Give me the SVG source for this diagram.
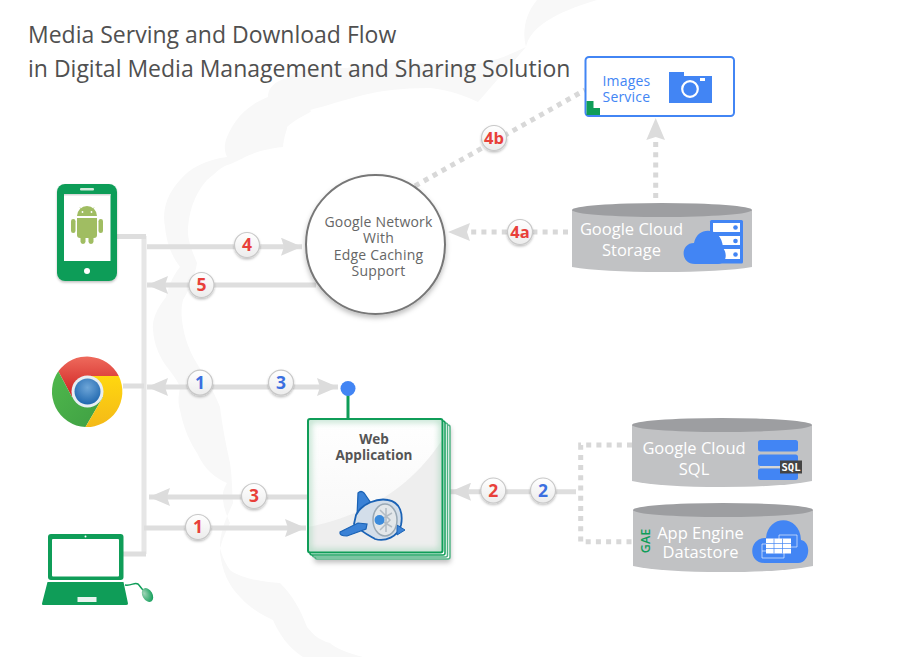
<svg xmlns="http://www.w3.org/2000/svg" width="899" height="657" viewBox="0 0 899 657">
<style>
text{font-family:"Open Sans","Noto Sans","Liberation Sans",sans-serif}
.t{fill:#505050}
.wire{fill:none;stroke:#dedede;stroke-width:5}
.vwire{fill:none;stroke:#e6e6e6;stroke-width:5}
.dot{fill:none;stroke:#d8d8d8;stroke-width:5;stroke-dasharray:5 5.2}
.bc{fill:url(#bg);stroke:#c8c8c8;stroke-width:1.2;filter:url(#ds)}
.bt{font-size:17.5px;font-weight:700;text-anchor:middle}
.red{fill:#e8403a}
.blue{fill:#3b6fe0}
.cy{fill:#c1c2c4}
.ct{fill:#9d9ea1}
.cl{fill:#fff;font-size:16.5px;text-anchor:middle}
.ic{fill:#4285f4}
.g{fill:#0f9d58}
</style>
<defs>
<linearGradient id="bg" x1="0" y1="0" x2="0" y2="1"><stop offset="0" stop-color="#fff"/><stop offset="1" stop-color="#ececec"/></linearGradient>
<linearGradient id="wa" x1="0" y1="0" x2="0" y2="1"><stop offset="0" stop-color="#fff"/><stop offset="1" stop-color="#f6f6f6"/></linearGradient>
<linearGradient id="cr" x1="0" y1="0" x2="0" y2="1"><stop offset="0" stop-color="#ee6a5c"/><stop offset="1" stop-color="#cf2020"/></linearGradient>
<linearGradient id="cg" x1="0" y1="0" x2="1" y2="1"><stop offset="0" stop-color="#4fb84c"/><stop offset="1" stop-color="#3f9f43"/></linearGradient>
<linearGradient id="cy" x1="0" y1="0" x2="0" y2="1"><stop offset="0" stop-color="#ffd70f"/><stop offset="1" stop-color="#f4b918"/></linearGradient>
<radialGradient id="ch" cx=".5" cy=".35" r=".7"><stop offset="0" stop-color="#6ea6d8"/><stop offset="1" stop-color="#1a63ac"/></radialGradient>
<radialGradient id="ms" cx=".3" cy=".3" r=".8"><stop offset="0" stop-color="#9fd4b6"/><stop offset="1" stop-color="#0f9d58"/></radialGradient>
<clipPath id="wc"><rect x="308" y="419" width="134.500" height="133.500" rx="2"/></clipPath>
<filter id="ds" x="-30%" y="-30%" width="160%" height="170%"><feDropShadow dx="0" dy="1.5" stdDeviation="1.2" flood-color="#000" flood-opacity=".25"/></filter>
<filter id="ds2" x="-20%" y="-20%" width="140%" height="140%"><feDropShadow dx="0" dy="3" stdDeviation="2.5" flood-color="#000" flood-opacity=".25"/></filter>
<filter id="blur" x="-20%" y="-20%" width="140%" height="140%"><feGaussianBlur stdDeviation="3.500"/></filter>
<marker id="ah" markerUnits="userSpaceOnUse" markerWidth="22" markerHeight="18" refX="21" refY="9" orient="auto"><path d="M0 0L21 9L0 18L3 9Z" fill="#dcdcdc"/></marker>
</defs>
<g id="background">
<path fill="#f8f8f8" d="M537 0C525 14 522 32 526 47C505 57 488 64 463 65C420 62 380 62 347 68C318 66 295 70 287 78C272 82 268 90 268 97C250 104 236 116 227 137C224 145 224 150 227 157C205 160 190 168 180 180C166 195 162 212 165 227C167 245 172 256 180 267C172 277 168 288 166 297C156 310 152 320 153 330C154 345 160 358 167 367C174 376 178 382 180 387C178 398 178 404 180 410C184 430 190 442 197 453C205 470 215 478 227 483C223 490 222 495 223 500C224 510 228 518 230 523C224 535 220 545 220 553C222 570 228 585 240 597C250 608 262 615 273 620C278 632 288 648 303 657L363 657C345 652 335 648 330 643C318 640 312 633 307 627C300 608 292 595 280 583C262 582 240 578 230 570C222 558 220 550 220 543C222 525 228 515 233 503C232 490 232 475 230 463C226 445 222 425 220 407C214 392 208 382 203 373C194 360 186 345 183 327C181 315 181 308 183 300C190 288 195 276 197 263C192 250 187 240 188 227C190 205 198 190 207 180C220 170 218 168 233 163C253 153 258 150 283 147C284 135 288 128 287 127C300 115 315 112 310 110C350 100 370 88 430 88C450 90 465 96 478 102L526 47C530 28 553 13 597 0Z"/>
</g>
<g id="title">
<text class="t" x="28" y="43" font-size="23">Media Serving and Download Flow</text>
<text class="t" x="28" y="77" font-size="23">in Digital Media Management and Sharing Solution</text>
</g>
<g id="connectors">
<path class="vwire" d="M144 236V554"/>
<path class="wire" d="M117 236.500H146M123 386H144M123 554H146"/>
<path class="wire" d="M147 246.700H302" marker-end="url(#ah)"/>
<path class="wire" d="M316 285H147" marker-end="url(#ah)"/>
<path class="wire" d="M200 387H147" marker-end="url(#ah)"/>
<path class="wire" d="M200 387H338" marker-end="url(#ah)"/>
<path class="wire" d="M307 497H149" marker-end="url(#ah)"/>
<path class="wire" d="M144 528H306" marker-end="url(#ah)"/>
<path class="wire" d="M576 491.700H450" marker-end="url(#ah)"/>
<path class="dot" d="M632 445H580.700V541.700H632"/>
<path class="dot" d="M415 186L585 90"/>
<path class="dot" d="M568 232H470"/>
<path d="M448 232L470 223L467 232L470 241Z" fill="#dcdcdc"/>
<path class="dot" d="M655.700 198V140"/>
<path d="M655.700 118L665 140L655.700 137L646.300 140Z" fill="#dcdcdc"/>
<path d="M348 395V418" fill="none" stroke="#0f9d58" stroke-width="3"/>
</g>
<g id="phone">
<rect class="g" x="57" y="184" width="60" height="97" rx="8" filter="url(#ds)"/>
<rect x="64" y="194" width="46.500" height="67" fill="#fff"/>
<rect x="64" y="194" width="46.500" height="1.500" fill="#d9d9d9"/>
<rect x="80" y="188" width="14" height="2.500" rx="1" fill="#cfe9da"/>
<circle cx="87" cy="271" r="3" fill="#fff"/>
<g fill="#a0bd62">
<path d="M77 216A10 10 0 0 1 97 216Z"/>
<path d="M77 218H97V235A3 3 0 0 1 94 238H80A3 3 0 0 1 77 235Z"/>
<rect x="71" y="219" width="4.500" height="14" rx="2.200"/>
<rect x="98.500" y="219" width="4.500" height="14" rx="2.200"/>
<rect x="80.500" y="236" width="5" height="8" rx="2.400"/>
<rect x="88.500" y="236" width="5" height="8" rx="2.400"/>
<path d="M80 207.500L83 211M94 207.500L91 211" stroke="#a0bd62" stroke-width=".8" fill="none"/>
</g>
<circle cx="82.500" cy="212" r=".9" fill="#fff"/><circle cx="91.500" cy="212" r=".9" fill="#fff"/>
</g>
<g id="chrome">
<path fill="url(#cr)" d="M58.300 371.300A35.500 35.500 0 0 1 118.800 376H87.500L72 397Z"/>
<path fill="url(#cg)" d="M58.300 371.300A35.500 35.500 0 0 0 85.500 427L103 397H72Z"/>
<path fill="url(#cy)" d="M118.800 376A35.500 35.500 0 0 1 85.500 427L103 397L87.500 376Z"/>
<circle cx="87.500" cy="391.500" r="16" fill="#e8eef2"/>
<circle cx="87.500" cy="391.500" r="13" fill="url(#ch)"/>
</g>
<g id="laptop">
<rect x="48" y="534" width="75.500" height="46" rx="3" class="g"/>
<rect x="52" y="539" width="67" height="37.500" rx="1" fill="#fff"/>
<circle cx="85.500" cy="536.500" r="1" fill="#fff"/>
<path class="g" d="M47.500 582H123.500L128 603.500Q128 605 126 605H43.500Q41.500 605 42 603.500Z"/>
<rect x="77.500" y="597" width="19" height="5" fill="#e8f4ee"/>
<path d="M125 585C132 586 134 582 138 584C140 586 141 588 143 590" fill="none" stroke="#0f9d58" stroke-width="1.500"/>
<ellipse cx="147.500" cy="595" rx="5" ry="7.500" transform="rotate(-30 147.500 595)" fill="url(#ms)"/>
</g>
<g id="edge-network">
<circle cx="375.500" cy="244.500" r="69.500" fill="#fff" stroke="#777" stroke-width="2" filter="url(#ds2)"/>
<g fill="#666" font-size="14" text-anchor="middle" letter-spacing=".2">
<text x="378.500" y="226.500">Google Network</text>
<text x="378.500" y="243">With</text>
<text x="378.500" y="259.500">Edge Caching</text>
<text x="378.500" y="276">Support</text>
</g>
</g>
<g id="images-service">
<rect x="585.500" y="57" width="148.500" height="59" rx="3.500" fill="#fff" stroke="#4285f4" stroke-width="2"/>
<path class="g" d="M586.500 115V101H593.500V108H600V115Z"/>
<g fill="#4285f4" font-size="14" letter-spacing=".2">
<text x="602.500" y="85.500">Images</text>
<text x="602.500" y="101.500">Service</text>
</g>
<path fill="#4285f4" d="M669 72H684V76H712V103H669Z"/>
<circle cx="690" cy="89" r="7.800" fill="none" stroke="#fff" stroke-width="2.200"/>
<rect x="700" y="78" width="5" height="3" fill="#fff"/>
</g>
<g id="cloud-storage">
<path class="cy" d="M572 210H752V267Q722 272 662 272T572 267Z"/>
<ellipse class="ct" cx="662" cy="210" rx="90" ry="7"/>
<text class="cl" x="631.500" y="235">Google Cloud</text>
<text class="cl" x="631.500" y="256">Storage</text>
<rect x="710" y="220" width="33" height="43.500" rx="1.500" class="ic"/>
<path fill="#fff" d="M713 223H740V232H713ZM713 236H740V245H713ZM713 249H740V259H713Z"/>
<circle cx="735.500" cy="227.500" r="2.300" class="ic"/><circle cx="735.500" cy="241" r="2.300" class="ic"/><circle cx="735.500" cy="254.500" r="2.300" class="ic"/>
<path class="ic" d="M695 264C680 264 680 243 694 243C697 226 722 226 723 248C728 254 726 264 718 264Z"/>
</g>
<g id="cloud-sql">
<path class="cy" d="M632 425H812V481Q782 487 722 487T632 481Z"/>
<ellipse class="ct" cx="722" cy="425" rx="90" ry="7"/>
<text class="cl" x="694" y="454">Google Cloud</text>
<text class="cl" x="694" y="475">SQL</text>
<rect x="758" y="440" width="40" height="11.500" rx="2.500" class="ic"/>
<rect x="758" y="454.500" width="40" height="11.500" rx="2.500" class="ic"/>
<rect x="758" y="468.500" width="40" height="11.500" rx="2.500" class="ic"/>
<path d="M760 467H782" stroke="#e8e8e8" stroke-width="1"/>
<rect x="780" y="460.500" width="22" height="13" fill="#444"/>
<text x="791" y="471" font-size="10.500" font-weight="700" fill="#fff" text-anchor="middle" style="font-family:'DejaVu Sans Mono','Liberation Mono',monospace">SQL</text>
</g>
<g id="datastore">
<path class="cy" d="M633 510H813V566Q783 572 723 572T633 566Z"/>
<ellipse class="ct" cx="723" cy="510" rx="90" ry="7"/>
<text class="cl" x="700.500" y="539">App Engine</text>
<text class="cl" x="700.500" y="558">Datastore</text>
<text transform="translate(649.500 541) rotate(-90)" font-size="12.500" font-weight="600" fill="#0f9d58" text-anchor="middle">GAE</text>
<path class="ic" d="M764 563C748 563 748 538 766 538C768 514 800 514 801 540C812 542 810 563 798 563Z"/>
<g fill="none" stroke="#fff">
<path stroke-width=".6" d="M762 544H784V558H762ZM762 551H784"/>
<path stroke-width=".6" d="M779 535H797V547H779Z"/>
</g>
<rect x="766" y="538.500" width="25" height="15" fill="#fff"/>
<path d="M774 538.500V553.500M782.500 538.500V553.500M766 543.500H791M766 548.500H791" stroke="#4285f4" stroke-width=".7"/>
</g>
<g id="web-app">
<rect x="315" y="425" width="135" height="134" rx="2" fill="#fff" stroke="#4fb283" stroke-width="1.500" filter="url(#ds2)"/>
<rect x="312.500" y="423" width="135" height="134" rx="2" fill="#fff" stroke="#4fb283" stroke-width="1.500"/>
<rect x="310" y="421" width="135" height="134" rx="2" fill="#fff" stroke="#0f9d58" stroke-width="1.500"/>
<rect x="308" y="419" width="134.500" height="133.500" rx="2" fill="url(#wa)"/>
<path d="M308 527C360 517 410 490 442 440V552.500H308Z" fill="#eeeeee"/>
<g clip-path="url(#wc)"><rect x="308" y="419" width="134.500" height="133.500" rx="2" fill="none" stroke="#a8d8bd" stroke-width="5" filter="url(#blur)"/></g>
<rect x="308" y="419" width="134.500" height="133.500" rx="2" fill="none" stroke="#0f9d58" stroke-width="2"/>
<g fill="#555" font-size="13.500" font-weight="700" text-anchor="middle">
<text x="374" y="443.500">Web</text>
<text x="374" y="460">Application</text>
</g>
<path d="M358 493Q361 490 364 493L373 506L357 516Z" fill="#3b82d6" stroke="#1a62b5" stroke-width="1.200"/>
<path d="M356 515C362 503 378 498 388 500C401 502 403 515 401 525C398 537 385 542 375 539C368 535 360 531 354 524Z" fill="#d3deea" stroke="#1a62b5" stroke-width="1.800"/>
<path d="M397 525L405 530L397 535Z" fill="#3b82d6" stroke="#1a62b5"/>
<ellipse cx="385" cy="520" rx="12" ry="16" fill="#e3e7ea" stroke="#9aa9b5" stroke-width="1.500"/>
<path d="M380 510L390 520L380 530M386 508L386 532M392 513L380 520L392 527" fill="none" stroke="#b3bcc4" stroke-width="1.500"/>
<circle cx="379.500" cy="520" r="5" fill="#3b8bdc"/>
<path d="M340 532L358 523L367 524L366 529L347 536Q339 536 340 532Z" fill="#3b82d6" stroke="#1a62b5" stroke-width="1.200"/>
</g>
<g id="endpoint">
<circle cx="348" cy="388.500" r="7.500" class="ic"/>
</g>
<g id="badges">
<circle class="bc" cx="247" cy="245" r="12.500"/><text class="bt red" x="247" y="251.200">4</text>
<circle class="bc" cx="201.500" cy="285" r="12.500"/><text class="bt red" x="201.500" y="291.200">5</text>
<circle class="bc" cx="200" cy="382.700" r="12.500"/><text class="bt blue" x="200" y="389">1</text>
<circle class="bc" cx="281" cy="382.700" r="12.500"/><text class="bt blue" x="281" y="389">3</text>
<circle class="bc" cx="254" cy="496" r="12.500"/><text class="bt red" x="254" y="502.200">3</text>
<circle class="bc" cx="198" cy="527" r="12.500"/><text class="bt red" x="198" y="533.200">1</text>
<circle class="bc" cx="493.300" cy="490.500" r="12.500"/><text class="bt red" x="493.300" y="496.700">2</text>
<circle class="bc" cx="543" cy="490.500" r="12.500"/><text class="bt blue" x="543" y="496.700">2</text>
<circle class="bc" cx="520" cy="232" r="12.500"/><text class="bt red" x="520" y="238" style="font-size:16.500px">4a</text>
<circle class="bc" cx="494" cy="138" r="12.500"/><text class="bt red" x="494" y="144" style="font-size:16.500px">4b</text>
</g>
</svg>
